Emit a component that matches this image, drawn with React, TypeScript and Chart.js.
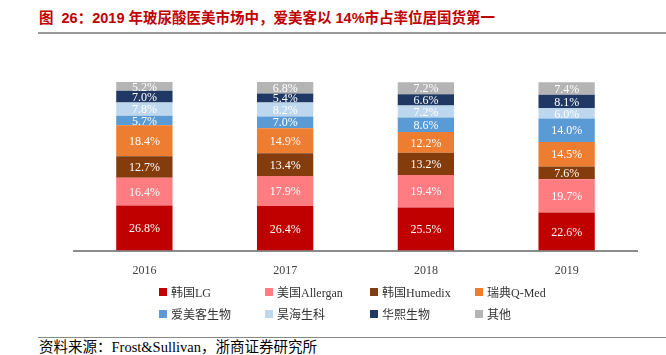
import React, { useEffect, useRef } from "react";
import { Chart, registerables } from "chart.js";

Chart.register(...registerables);

const years = ["2016", "2017", "2018", "2019"];
const seriesNames = ["韩国LG", "美国Allergan", "韩国Humedix", "瑞典Q-Med", "爱美客生物", "昊海生科", "华熙生物", "其他"];
const seriesColors = ["#C00000", "#FF7C80", "#843C0C", "#ED7D31", "#5B9BD5", "#BDD7EE", "#203864", "#B4B4B4"];
const lg = [26.8, 26.4, 25.5, 22.6];
const allergan = [16.4, 17.9, 19.4, 19.7];
const humedix = [12.7, 13.4, 13.2, 7.6];
const qmed = [18.4, 14.9, 12.2, 14.5];
const imeik = [5.7, 7.0, 8.6, 14.0];
const haohai = [7.8, 8.2, 7.2, 6.0];
const bloomage = [7.0, 5.4, 6.6, 8.1];
const others = [5.2, 6.8, 7.2, 7.4];
const seriesValues = [lg, allergan, humedix, qmed, imeik, haohai, bloomage, others];

const titleText = "图  26：2019 年玻尿酸医美市场中，爱美客以 14%市占率位居国货第一";
const sourceText = "资料来源：Frost&Sullivan，浙商证券研究所";

const serif = '"Liberation Serif", "Times New Roman", "Noto Sans CJK SC", serif';

const labelPlugin = {
  id: "segLabels",
  afterDatasetsDraw(chart: any) {
    const ctx = chart.ctx;
    ctx.save();
    ctx.font = "12px " + serif;
    ctx.fillStyle = "#FFFFFF";
    ctx.textAlign = "center";
    ctx.textBaseline = "middle";
    chart.data.datasets.forEach((ds: any, di: number) => {
      const meta = chart.getDatasetMeta(di);
      meta.data.forEach((el: any, i: number) => {
        const v = ds.data[i];
        const cy = (el.y + el.base) / 2;
        ctx.fillText(v.toFixed(1) + "%", el.x, cy + 1);
      });
    });
    ctx.restore();
  },
};

export default function App() {
  const ref = useRef<HTMLCanvasElement>(null);
  useEffect(() => {
    const chart = new Chart(ref.current as HTMLCanvasElement, {
      type: "bar",
      data: {
        labels: years,
        datasets: seriesNames.map((n, i) => ({
          label: n,
          data: seriesValues[i],
          backgroundColor: seriesColors[i],
          borderWidth: 0,
          barPercentage: 0.4,
          categoryPercentage: 1,
        })),
      },
      options: {
        animation: false,
        responsive: false,
        maintainAspectRatio: false,
        layout: { padding: { left: 74, right: 29, top: 82, bottom: 0 } },
        plugins: { legend: { display: false }, tooltip: { enabled: false } },
        scales: {
          x: {
            stacked: true,
            grid: { display: false, drawTicks: false },
            border: { display: true, color: "#8C8C8C", width: 2 },
            ticks: { color: "#404040", font: { family: serif, size: 12 }, padding: 13 },
          },
          y: { stacked: true, display: false, min: 0, max: 100 },
        },
      },
      plugins: [labelPlugin],
    });
    return () => chart.destroy();
  }, []);

  const cols = [159, 265, 370, 475];
  return (
    <div style={{ position: "fixed", left: 0, top: 0, width: 666, height: 355, background: "#fff", overflow: "hidden" }}>
      <div style={{ position: "absolute", left: 39, top: 8, fontFamily: '"Liberation Sans", "Noto Sans CJK SC", sans-serif', fontWeight: 700, fontSize: 14.5, color: "#C00000", whiteSpace: "pre", lineHeight: "20px" }}>
        {titleText}
      </div>
      <div style={{ position: "absolute", left: 38, top: 32, width: 628, height: 2, background: "#999" }} />
      <canvas ref={ref} width={666} height={291} style={{ position: "absolute", left: 0, top: 0, width: 666, height: 291 }} />
      {seriesNames.map((n, i) => (
        <div key={n} style={{ position: "absolute", left: cols[i % 4], top: i < 4 ? 284 : 306, height: 16, display: "flex", alignItems: "center", fontFamily: serif, fontSize: 12, color: "#333", whiteSpace: "nowrap" }}>
          <span style={{ display: "inline-block", width: 8, height: 8, background: seriesColors[i], marginRight: 4 }} />
          <span>{n}</span>
        </div>
      ))}
      <div style={{ position: "absolute", left: 38, top: 337, width: 628, height: 1, background: "#888" }} />
      <div style={{ position: "absolute", left: 39, top: 339, fontFamily: serif, fontSize: 14.5, color: "#000", whiteSpace: "pre", lineHeight: "16px" }}>
        {sourceText}
      </div>
    </div>
  );
}
